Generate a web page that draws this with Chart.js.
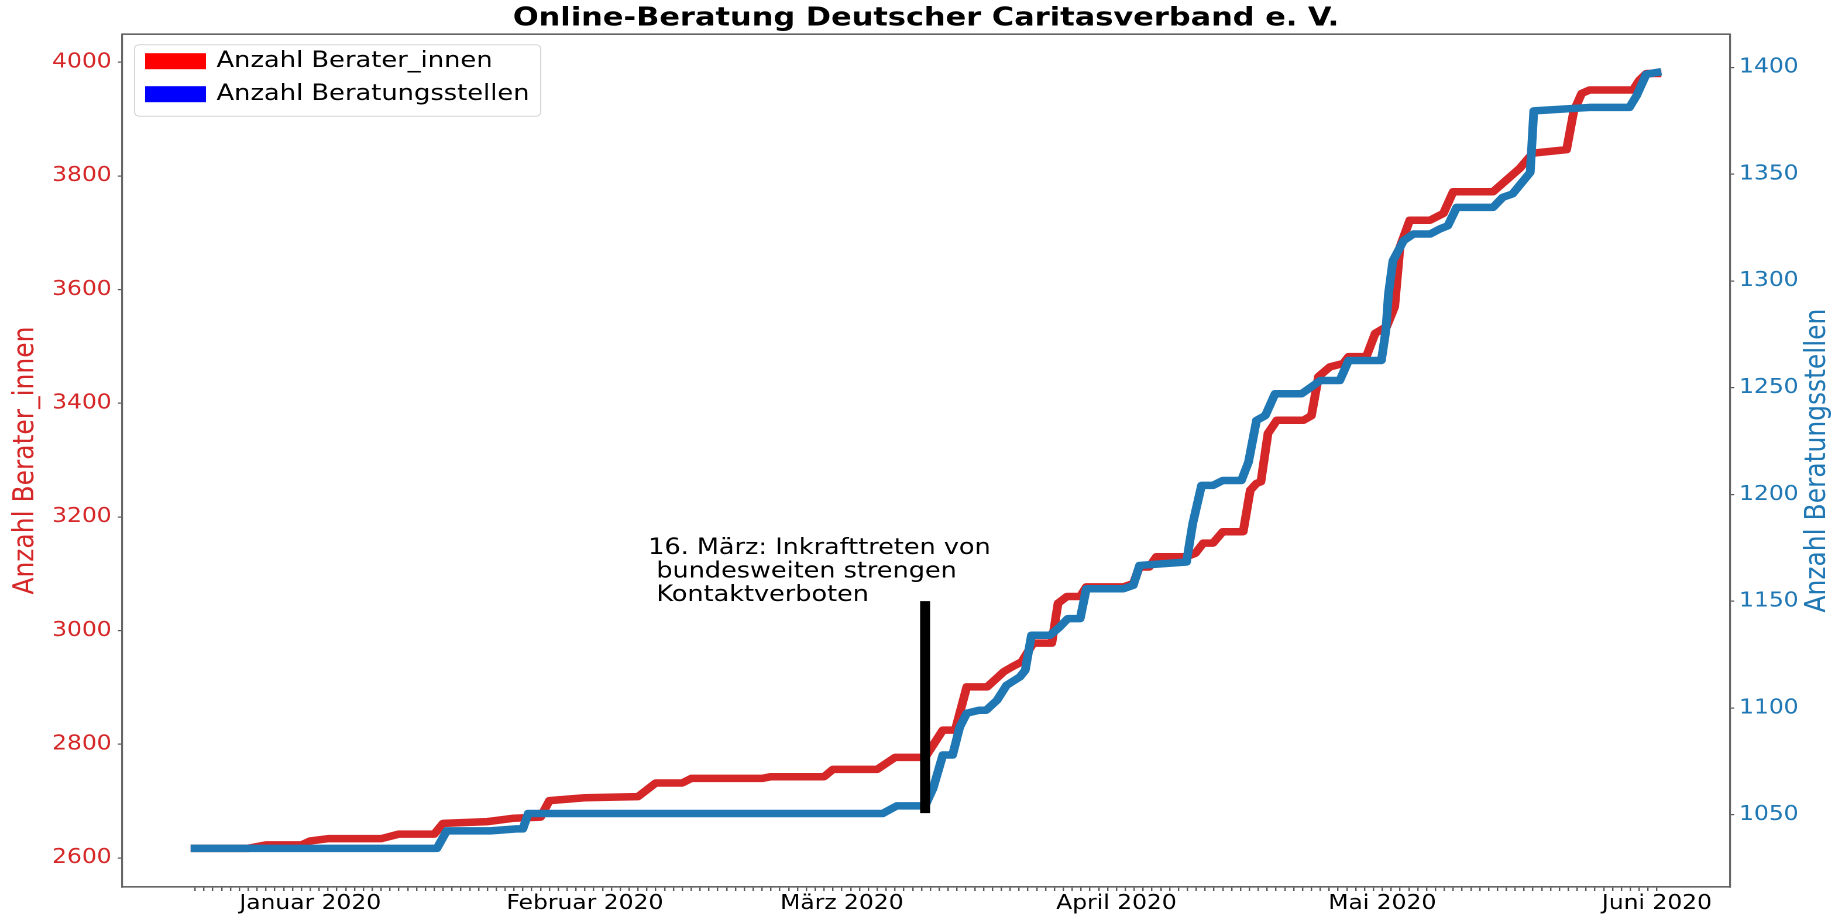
<!DOCTYPE html>
<html><head><meta charset="utf-8">
<script src="https://cdn.jsdelivr.net/npm/chart.js@4"></script>
<style>
html,body{margin:0;padding:0;background:#fff;overflow:hidden;}
#wrap{width:1568px;height:914px;transform:scaleX(1.17028);transform-origin:0 0;}
</style></head><body>
<div id="wrap"><canvas id="c"></canvas></div>
<script>
const chartTitle = 'Online-Beratung Deutscher Caritasverband e. V.';
const seriesNames = ['Anzahl Berater_innen', 'Anzahl Beratungsstellen'];
const monthLabels = ['Januar 2020', 'Februar 2020', 'März 2020', 'April 2020', 'Mai 2020', 'Juni 2020'];
const monthDays = [0, 31, 60, 91, 121, 152];          // days since 1 Jan 2020
const firstDay = -13, lastDay = 152;                  // 19 Dec 2019 .. 1 Jun 2020
const leftTicks = [2600, 2800, 3000, 3200, 3400, 3600, 3800, 4000];
const rightTicks = [1050, 1100, 1150, 1200, 1250, 1300, 1350, 1400];

const beraterDays = [-13,-7,-5,-1,0,2,8,10,14,15,20,23,26,27,31,37,39,42,43,51,52,58,59,64,66,69.4,71.4,72.8,74.1,76.4,78.3,79.3,80.3,81.6,83.7,84.4,85.4,86.9,87.6,91.8,92.9,93.6,94.7,95.5,98.9,99.9,100.8,101.9,103,105.3,106.1,106.8,107.3,108.1,109.1,112.1,113,113.8,115.1,116.6,117.2,119.2,120.2,121.5,122.4,123,124.1,126.4,127.9,129,133.5,134.6,136.5,138,141.8,142.6,143.5,144.4,149.3,150,150.8,152];
const beraterValues = [2617,2617,2623,2623,2630,2634,2634,2642,2642,2661,2664,2670,2672,2701,2706,2708,2732,2732,2740,2740,2743,2743,2756,2756,2777,2777,2825,2825,2901,2901,2928,2937,2945,2978,2978,3048,3060,3060,3077,3077,3083,3112,3112,3130,3130,3136,3154,3154,3174,3174,3247,3259,3262,3347,3370,3370,3378,3447,3464,3470,3482,3482,3523,3535,3570,3675,3722,3722,3734,3772,3772,3787,3813,3840,3846,3913,3945,3951,3951,3968,3980,3980];

const stellenDays = [-13,14.3,15.4,20.3,23.3,24,24.6,64.6,66.2,69.4,70.3,71.4,72.5,73.3,74.1,75.5,76.3,77.5,78.6,80.1,80.7,81.4,83.5,84.6,85.5,86.9,87.6,91.8,92.9,93.6,98.9,99.6,100.6,101.9,103,105.1,105.9,106.8,107.8,108.9,111.9,113.2,114,116.2,117.2,120.9,121.4,121.7,122.2,123.4,124.5,126.4,127.5,128.4,129.4,133.5,134.6,135.7,137.7,138.1,144.4,148.9,149.7,150.8,152];
const stellenValues = [1034.3,1034.3,1042.5,1042.5,1043.4,1043.4,1050.6,1050.6,1054.2,1054.2,1062.4,1078,1078,1091,1097.6,1099,1099,1103.6,1110.7,1114.6,1117.7,1134.1,1134.1,1138,1141.9,1141.9,1155.9,1155.9,1157.5,1166.8,1168.4,1186.3,1204.3,1204.3,1206.6,1206.6,1215.2,1234.7,1237,1247.2,1247.2,1251,1253.4,1253.4,1262.8,1262.8,1276.8,1294,1309.5,1318.9,1322,1322,1324.4,1325.9,1334.5,1334.5,1339.2,1340.8,1350.9,1379.7,1381.3,1381.3,1386.8,1396.9,1397.7];

const markerDay = 69.4;
const markerRange = [2679, 3052];
const annotationLines = ['16. März: Inkrafttreten von', ' bundesweiten strengen', ' Kontaktverboten'];
const annotationAnchor = [38.15, 3052];  // [day, value] of last text baseline

const FONT = 'DejaVu Sans';
const RED = '#d62728', BLUE = '#1f77b4';

const zip = (xs, ys) => xs.slice(0, Math.min(xs.length, ys.length)).map((x, i) => ({x: x, y: ys[i]}));
const dayTickValues = [];
for (let d = firstDay; d <= lastDay; d++) dayTickValues.push(d);

const decorPlugin = {
  id: 'decor',
  afterDatasetsDraw(chart) {
    const ctx = chart.ctx, a = chart.chartArea;
    const o = chart.options.plugins.decor;
    ctx.save();
    // top spine
    ctx.strokeStyle = '#666'; ctx.lineWidth = 1.6;
    ctx.beginPath(); ctx.moveTo(a.left, a.top); ctx.lineTo(a.right, a.top); ctx.stroke();
    // annotation
    const ax = chart.scales.x.getPixelForValue(annotationAnchor[0]);
    const ay = chart.scales.y.getPixelForValue(annotationAnchor[1]);
    ctx.font = o.annFontSize + 'px "' + FONT + '"'; ctx.fillStyle = '#000';
    ctx.textAlign = 'left'; ctx.textBaseline = 'alphabetic';
    const n = annotationLines.length;
    annotationLines.forEach((t, i) => ctx.fillText(t, ax, ay - (n - 1 - i) * o.annLineHeight));
    // right axis title (rotated like matplotlib, bottom-to-top)
    const r = chart.scales.y1;
    ctx.translate(r.right - o.rightTitleOffset, (a.top + a.bottom) / 2);
    ctx.rotate(-Math.PI / 2);
    ctx.font = '25px "' + FONT + '"'; ctx.fillStyle = BLUE;
    ctx.textAlign = 'center'; ctx.textBaseline = 'middle';
    ctx.fillText(seriesNames[1], 0, 0);
    ctx.restore();
  },
  afterDraw(chart) {
    const ctx = chart.ctx, a = chart.chartArea;
    const L = chart.options.plugins.decor.legend;
    const x = a.left + L.dx, y = a.top + L.dy;
    ctx.save();
    ctx.beginPath();
    ctx.roundRect(x, y, L.w, L.h, 4);
    ctx.fillStyle = 'rgba(255,255,255,0.8)'; ctx.fill();
    ctx.strokeStyle = 'rgba(204,204,204,0.8)'; ctx.lineWidth = 1; ctx.stroke();
    ctx.font = L.fontSize + 'px "' + FONT + '"';
    ctx.textAlign = 'left'; ctx.textBaseline = 'middle';
    chart.data.datasets.filter(d => seriesNames.includes(d.label)).forEach((d, i) => {
      const cy = y + L.firstRow + i * L.rowGap;
      ctx.fillStyle = L.colors[i];
      ctx.fillRect(x + L.patchX, cy - L.patchH / 2, L.patchW, L.patchH);
      ctx.fillStyle = '#000';
      ctx.fillText(d.label, x + L.textX, cy);
    });
    ctx.restore();
  }
};

const plainNumber = v => String(v);

new Chart(document.getElementById('c'), {
  type: 'line',
  data: {
    datasets: [
      {label: seriesNames[0], data: zip(beraterDays, beraterValues), yAxisID: 'y',
       borderColor: RED, backgroundColor: RED, borderWidth: 7.5, pointRadius: 0,
       borderCapStyle: 'square', borderJoinStyle: 'round', order: 2},
      {label: seriesNames[1], data: zip(stellenDays, stellenValues), yAxisID: 'y1',
       borderColor: BLUE, backgroundColor: BLUE, borderWidth: 7.5, pointRadius: 0,
       borderCapStyle: 'square', borderJoinStyle: 'round', order: 1},
      {label: 'marker', data: [{x: markerDay, y: markerRange[0]}, {x: markerDay, y: markerRange[1]}],
       yAxisID: 'y', borderColor: '#000', borderWidth: 8.5, pointRadius: 0,
       borderCapStyle: 'butt', order: 0}
    ]
  },
  options: {
    responsive: true, maintainAspectRatio: false, animation: false, devicePixelRatio: 2,
    layout: {padding: 0},
    plugins: {
      legend: {display: false},
      tooltip: {enabled: false},
      title: {display: true, text: chartTitle, fullSize: false, color: '#000',
              font: {family: FONT, size: 26, weight: 'bold'}, padding: {top: 3, bottom: 0}},
      decor: {
        annLineHeight: 23.5, annFontSize: 21.8, rightTitleOffset: 15,
        legend: {dx: 10.8, dy: 10.5, w: 347, h: 71.5, firstRow: 16.5, rowGap: 33,
                 patchX: 9, patchW: 52, patchH: 16, textX: 70, fontSize: 22,
                 colors: ['#ff0000', '#0000ff']}
      }
    },
    scales: {
      x: {
        type: 'linear', position: 'bottom', min: -21.25, max: 160.25, bounds: 'data',
        afterBuildTicks: s => { s.ticks = dayTickValues.map(v => ({value: v})); },
        afterFit: s => { s.height = 27; },
        ticks: {autoSkip: false, maxRotation: 0, minRotation: 0, padding: 1, color: '#000',
                font: {family: FONT, size: 20},
                callback: v => { const i = monthDays.indexOf(v); return i >= 0 ? monthLabels[i] : ''; }},
        grid: {display: true, drawOnChartArea: false, drawTicks: true, tickLength: 4, color: '#555', lineWidth: 1.2},
        border: {display: true, color: '#666', width: 1.6}
      },
      y: {
        type: 'linear', position: 'left', min: 2549, max: 4049.2,
        afterBuildTicks: s => { s.ticks = leftTicks.map(v => ({value: v})); },
        afterFit: s => { s.width = 104.2; },
        ticks: {color: RED, padding: 5.3, font: {family: FONT, size: 20}, callback: plainNumber},
        grid: {display: true, drawOnChartArea: false, drawTicks: true, tickLength: 3.5, color: '#555', lineWidth: 1.2},
        border: {display: true, color: '#666', width: 1.6},
        title: {display: true, text: seriesNames[0], color: RED, font: {family: FONT, size: 25},
                padding: {top: 7, bottom: 0}}
      },
      y1: {
        type: 'linear', position: 'right', min: 1016.2, max: 1415.6,
        afterBuildTicks: s => { s.ticks = rightTicks.map(v => ({value: v})); },
        afterFit: s => { s.width = 89.7; },
        ticks: {color: BLUE, padding: 4.2, font: {family: FONT, size: 20}, callback: plainNumber},
        grid: {display: true, drawOnChartArea: false, drawTicks: true, tickLength: 3.5, color: '#555', lineWidth: 1.2},
        border: {display: true, color: '#666', width: 1.6}
      }
    }
  },
  plugins: [decorPlugin]
});
</script>
</body></html>
